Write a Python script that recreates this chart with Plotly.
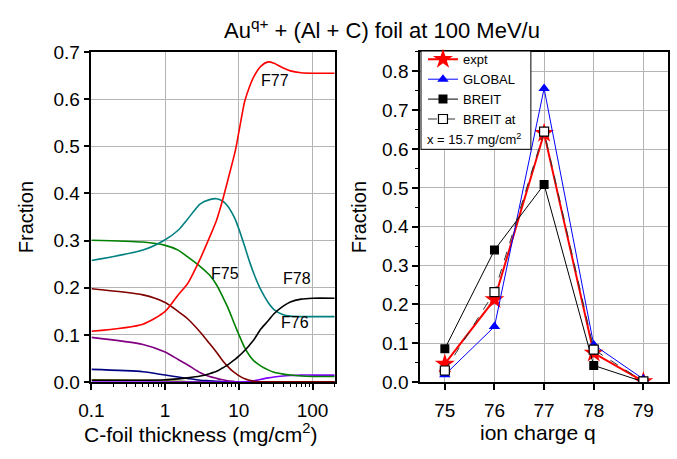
import math
import plotly.graph_objects as go

# ---------------- data: left panel (charge-state evolution vs C-foil thickness)
thickness = [0.1, 0.5, 1, 1.5, 2, 3, 4, 5, 6, 7, 8, 9, 10, 12, 14, 16, 20, 25, 30, 40, 50, 70, 100, 200]
F77 = [0.108, 0.123, 0.150, 0.185, 0.208, 0.262, 0.307, 0.344, 0.385, 0.425, 0.460, 0.492, 0.530, 0.595, 0.627, 0.648, 0.670, 0.679, 0.676, 0.666, 0.660, 0.656, 0.655, 0.655]
F76 = [0.258, 0.280, 0.302, 0.322, 0.345, 0.378, 0.387, 0.389, 0.384, 0.374, 0.360, 0.344, 0.325, 0.288, 0.255, 0.230, 0.195, 0.169, 0.154, 0.143, 0.140, 0.139, 0.139, 0.139]
F75 = [0.301, 0.297, 0.290, 0.280, 0.266, 0.245, 0.227, 0.206, 0.182, 0.160, 0.138, 0.118, 0.101, 0.073, 0.056, 0.045, 0.034, 0.026, 0.021, 0.017, 0.015, 0.013, 0.012, 0.012]
F74 = [0.198, 0.185, 0.169, 0.150, 0.135, 0.106, 0.082, 0.063, 0.046, 0.034, 0.025, 0.019, 0.014, 0.007, 0.004, 0.002, 0.001, 0.001, 0.001, 0.001, 0.001, 0.001, 0.001, 0.001]
F73 = [0.095, 0.080, 0.064, 0.048, 0.037, 0.020, 0.012, 0.008, 0.005, 0.003, 0.002, 0.001, 0.001, 0.0, 0.0, 0.0, 0.0, 0.0, 0.0, 0.0, 0.0, 0.0, 0.0, 0.0]
F72 = [0.027, 0.022, 0.015, 0.011, 0.008, 0.004, 0.003, 0.002, 0.001, 0.001, 0.0, 0.0, 0.0, 0.0, 0.0, 0.0, 0.0, 0.0, 0.0, 0.0, 0.0, 0.0, 0.0, 0.0]
F71 = [0.005, 0.004, 0.003, 0.002, 0.001, 0.001, 0.0, 0.0, 0.0, 0.0, 0.0, 0.0, 0.0, 0.0, 0.0, 0.0, 0.0, 0.0, 0.0, 0.0, 0.0, 0.0, 0.0, 0.0]
F78 = [0.004, 0.004, 0.005, 0.007, 0.009, 0.013, 0.018, 0.023, 0.030, 0.036, 0.043, 0.049, 0.055, 0.067, 0.079, 0.090, 0.113, 0.130, 0.145, 0.161, 0.170, 0.176, 0.178, 0.178]
F79 = [0.0, 0.0, 0.0, 0.0, 0.0, 0.0, 0.0, 0.0, 0.0, 0.0, 0.0, 0.0, 0.0005, 0.001, 0.002, 0.003, 0.006, 0.009, 0.011, 0.013, 0.014, 0.015, 0.015, 0.015]

# ---------------- data: right panel (fractions at x = 15.7 mg/cm2)
charge = [75, 76, 77, 78, 79]
expt = [0.047, 0.213, 0.641, 0.075, 0.002]
global_ = [0.019, 0.143, 0.756, 0.096, 0.008]
breit = [0.086, 0.340, 0.509, 0.043, 0.001]
breit_at = [0.030, 0.232, 0.645, 0.084, 0.002]

curve_labels = ["F77", "F75", "F78", "F76"]
curve_label_x = [31.0, 6.5, 61.0, 57.5]
curve_label_y = [0.64, 0.231, 0.219, 0.126]

W, H = 677, 459
def px(x):
    return x / W
def py(y):
    return 1 - y / H

FONT = "Liberation Sans, Arial, sans-serif"
fig = go.Figure()

left_curves = [
    (F71, "#808000"), (F72, "#000080"), (F73, "#800080"), (F79, "#8000ff"),
    (F74, "#800000"), (F75, "#008000"), (F76, "#008080"), (F78, "#000000"), (F77, "#ff0000"),
]
for ys, col in left_curves:
    fig.add_trace(go.Scatter(x=thickness, y=ys, mode="lines", xaxis="x", yaxis="y",
                             line=dict(color=col, width=1.6, shape="spline", smoothing=0.7),
                             showlegend=False, hoverinfo="skip"))

fig.add_trace(go.Scatter(x=charge, y=expt, name="expt", xaxis="x2", yaxis="y2",
                         mode="lines+markers", line=dict(color="#ff0000", width=2),
                         marker=dict(symbol="star", size=15, color="#ff0000")))
fig.add_trace(go.Scatter(x=charge, y=global_, name="GLOBAL", xaxis="x2", yaxis="y2",
                         mode="lines+markers", line=dict(color="#0000ff", width=1),
                         marker=dict(symbol="triangle-up", size=10, color="#0000ff")))
fig.add_trace(go.Scatter(x=charge, y=breit, name="BREIT", xaxis="x2", yaxis="y2",
                         mode="lines+markers", line=dict(color="#000000", width=1),
                         marker=dict(symbol="square", size=9, color="#000000")))
fig.add_trace(go.Scatter(x=charge, y=breit_at, name="BREIT at", xaxis="x2", yaxis="y2",
                         mode="lines+markers", line=dict(color="#333333", width=1, dash="dash"),
                         marker=dict(symbol="square", size=9, color="#ffffff",
                                     line=dict(color="#000000", width=1.2))))

for t, xv, yv in zip(curve_labels, curve_label_x, curve_label_y):
    fig.add_annotation(x=math.log10(xv), y=yv, xref="x", yref="y", text=t, showarrow=False,
                       font=dict(size=16, color="black", family=FONT))

axis_common = dict(showline=True, linecolor="black", linewidth=1.5, mirror=True,
                   ticks="outside", ticklen=6, tickwidth=1.5, tickcolor="black",
                   showgrid=True, gridcolor="#b4b4b4", gridwidth=1, zeroline=False,
                   tickfont=dict(size=19, family=FONT, color="black"))

ydom = [py(390), py(44)]
fig.update_layout(
    width=W, height=H, margin=dict(l=0, r=0, t=0, b=0),
    paper_bgcolor="white", plot_bgcolor="white",
    font=dict(family=FONT, color="black"),
    xaxis=dict(domain=[px(80), px(328)], type="log", range=[-1, 2.30103],
               tickvals=[0.1, 1, 10, 100], ticktext=["0.1", "1", "10", "100"],
               ticklabelstandoff=4,
               minor=dict(ticks="outside", ticklen=3, tickcolor="black", tickwidth=1,
                          tickvals=[0.2,0.3,0.4,0.5,0.6,0.7,0.8,0.9,2,3,4,5,6,7,8,9,20,30,40,50,60,70,80,90,200],
                          showgrid=False),
               anchor="y", **axis_common),
    yaxis=dict(domain=ydom, range=[0, 0.7], dtick=0.1, tickformat=".1f", anchor="x",
               title=dict(text="Fraction", font=dict(size=20, family=FONT), standoff=14),
               **axis_common),
    xaxis2=dict(domain=[px(415), px(668)], range=[74.5, 79.5], dtick=1, anchor="y2",
                ticklabelstandoff=4, **axis_common),
    yaxis2=dict(domain=ydom, range=[0, 0.85], dtick=0.1, tickformat=".1f", anchor="x2",
                minor=dict(ticks="outside", ticklen=3, tickcolor="black", tickwidth=1,
                           dtick=0.05, showgrid=False),
                title=dict(text="Fraction", font=dict(size=20, family=FONT), standoff=10),
                **axis_common),
    legend=dict(x=px(418), y=py(36), xanchor="left", yanchor="top",
                bgcolor="rgba(0,0,0,0)", borderwidth=0, itemwidth=30,
                font=dict(size=13, family=FONT, color="black"),
                tracegroupgap=0),
)

fig.add_annotation(x=px(376), y=py(20), xref="paper", yref="paper", showarrow=False,
                   text="Au<sup>q+</sup> + (Al + C) foil at 100 MeV/u",
                   font=dict(size=22, family=FONT), xanchor="center", yanchor="middle")
fig.add_annotation(x=px(191), y=py(443), xref="paper", yref="paper", showarrow=False,
                   text="C-foil thickness (mg/cm<sup>2</sup>)",
                   font=dict(size=21, family=FONT), xanchor="center", yanchor="middle")
fig.add_annotation(x=px(535), y=py(443), xref="paper", yref="paper", showarrow=False,
                   text="ion charge q",
                   font=dict(size=21, family=FONT), xanchor="center", yanchor="middle")
fig.add_annotation(x=px(420), y=py(135), xref="paper", yref="paper", showarrow=False,
                   text="x = 15.7 mg/cm<sup>2</sup>", xanchor="left", yanchor="middle",
                   font=dict(size=13, family=FONT))
fig.add_shape(type="rect", xref="paper", yref="paper", layer="above",
              x0=px(416), x1=px(528), y0=py(146), y1=py(43),
              fillcolor="white", line=dict(color="black", width=1))

fig.write_html("out.html")
